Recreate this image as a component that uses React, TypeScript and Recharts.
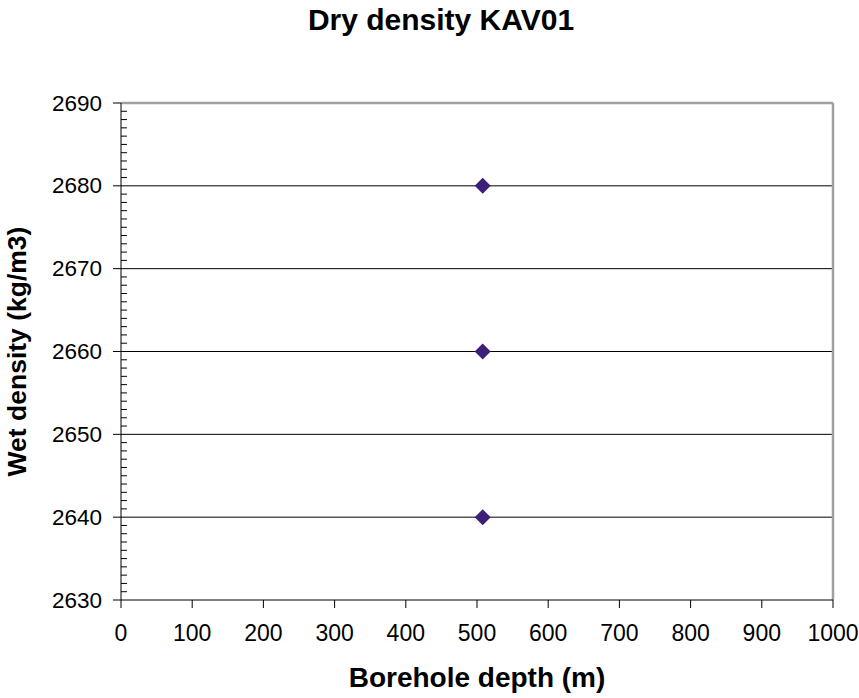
import { ScatterChart, Scatter, XAxis, YAxis, ReferenceLine, Label } from 'recharts'

const depths = [508, 508, 508]
const wetDensity = [2680, 2660, 2640]
const xTicks = [0, 100, 200, 300, 400, 500, 600, 700, 800, 900, 1000]
const yTicks = [2630, 2640, 2650, 2660, 2670, 2680, 2690]
const yMinorTicks = Array.from({ length: 61 }, (_, i) => 2630 + i)

const data = depths.map((d, i) => ({ depth: d, density: wetDensity[i] }))

const FONT = 'Arial, "Liberation Sans", sans-serif'
const PLOT_LEFT = 121
const MARKER = '#3d1f7a'
const BORDER = '#a0a0a0'

function Diamond(props: any) {
  const { cx, cy } = props
  const r = 8
  return <polygon points={`${cx},${cy - r} ${cx + r},${cy} ${cx},${cy + r} ${cx - r},${cy}`} fill={MARKER} />
}

function YTick(props: any) {
  const { y, payload } = props
  const v = payload.value
  if (v % 10 === 0) {
    return (
      <g>
        <line x1={PLOT_LEFT - 8} x2={PLOT_LEFT} y1={y} y2={y} stroke="#000" strokeWidth={1} />
        <text x={102} y={y} textAnchor="end" dominantBaseline="central" fontSize={22.5} fontFamily={FONT} fill="#000">
          {v}
        </text>
      </g>
    )
  }
  return <line x1={PLOT_LEFT} x2={PLOT_LEFT + 6} y1={y} y2={y} stroke="#000" strokeWidth={1} />
}

export default function App() {
  return (
    <div style={{ position: 'absolute', left: 0, top: 0, width: 859, height: 698, background: '#fff' }}>
      <svg width={859} height={50} style={{ position: 'absolute', left: 0, top: 0 }}>
        <text x={441} y={30} textAnchor="middle" fontSize={30} fontWeight="bold" fontFamily={FONT} fill="#000">
          Dry density KAV01
        </text>
      </svg>
      <ScatterChart
        width={859}
        height={698}
        margin={{ top: 103, right: 26, bottom: 0, left: 0 }}
        style={{ position: 'absolute', left: 0, top: 0 }}
      >
        <XAxis
          type="number"
          dataKey="depth"
          domain={[0, 1000]}
          ticks={xTicks}
          interval={0}
          height={98}
          stroke="#000"
          tickSize={8}
          tickMargin={17}
          tick={{ fontSize: 23, fontFamily: FONT, fill: '#000' }}
          allowDataOverflow
        >
          <Label
            content={(p: any) => (
              <text x={p.viewBox.x + p.viewBox.width / 2} y={687} textAnchor="middle" fontSize={28} fontWeight="bold" fontFamily={FONT} fill="#000">
                Borehole depth (m)
              </text>
            )}
          />
        </XAxis>
        <YAxis
          type="number"
          dataKey="density"
          domain={[2630, 2690]}
          ticks={yMinorTicks}
          interval={0}
          width={121}
          stroke="#000"
          tickLine={false}
          tick={<YTick />}
          allowDataOverflow
        >
          <Label
            content={(p: any) => {
              const cy = p.viewBox.y + p.viewBox.height / 2
              return (
                <text x={26} y={cy} transform={`rotate(-90, 26, ${cy})`} textAnchor="middle" fontSize={26.5} fontWeight="bold" fontFamily={FONT} fill="#000">
                  Wet density (kg/m3)
                </text>
              )
            }}
          />
        </YAxis>
        {yTicks.slice(1, -1).map((t) => (
          <ReferenceLine key={t} y={t} stroke="#000" strokeWidth={1} />
        ))}
        <ReferenceLine y={yTicks[yTicks.length - 1]} stroke={BORDER} strokeWidth={2.5} />
        <ReferenceLine x={xTicks[xTicks.length - 1]} stroke={BORDER} strokeWidth={2.5} />
        <Scatter data={data} shape={<Diamond />} isAnimationActive={false} />
      </ScatterChart>
    </div>
  )
}
